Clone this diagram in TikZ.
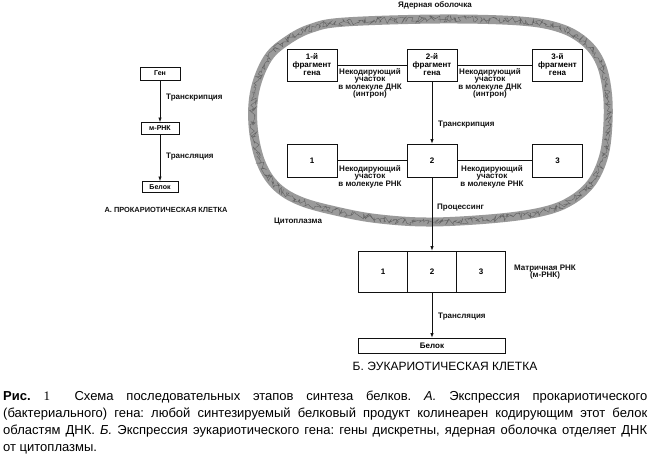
\documentclass[tikz,border=0pt]{standalone}
\usepackage{fontspec}
\setmainfont{Liberation Sans}
\newfontfamily\figserif{Liberation Serif}
\usepackage{xcolor}
\definecolor{cInk}{HTML}{111111}
\definecolor{cMembrane}{HTML}{9A9A9A}
\usepackage{tikz}
\usetikzlibrary{positioning,arrows.meta,decorations.pathmorphing}
\tikzset{
  node-box/.style={draw=cInk,line width=0.8pt,inner sep=0pt,outer sep=0pt,
    align=center,font=\fontsize{8}{8}\selectfont\bfseries},
  node-note/.style={inner sep=0pt,align=center,text=cInk,
    font=\fontsize{8}{7.6}\selectfont\bfseries},
  node-small/.style={font=\fontsize{7}{7}\selectfont\bfseries},
  arrow/.style={-{Latex[length=5pt,width=3.5pt]},line width=0.9pt,draw=cInk},
  link/.style={line width=0.8pt,draw=cInk},
  membrane/.style={line width=9pt,draw=cMembrane,line join=round},
  membrane-grain/.style={line width=0.4pt,draw=cInk!65,decorate,
    decoration={random steps,segment length=1.3pt,amplitude=3.4pt}},
}
\newcommand{\envpath}{plot[smooth cycle,tension=0.6] coordinates {
  (345,22) (440,19) (520,21) (560,28) (585,42) (600,62) (607,90) (608,122)
  (604,155) (592,182) (572,200) (545,211) (500,218) (432,222) (380,219)
  (340,212) (300,201) (275,185) (260,160) (253,125) (255,90) (268,58)
  (288,40) (312,28)}}

\begin{document}
\frenchspacing
\begin{tikzpicture}[x=1pt,y=-1pt]
  \useasboundingbox (0,0) rectangle (650,460);

  % A: prokaryotic cell
  \node[node-box,node-small,minimum width=40pt,minimum height=13pt] (gen) at (160,73.5) {Ген};
  \node[node-box,node-small,minimum width=38pt,minimum height=12pt] (mrna) at (160,128.5) {м-РНК};
  \node[node-box,node-small,minimum width=36pt,minimum height=11pt] (prot-a) at (160,187) {Белок};
  \draw[arrow] (gen) -- (mrna);
  \draw[arrow] (mrna) -- (prot-a);
  \node[node-note,anchor=west] (transc-a) at (166,98) {Транскрипция};
  \node[node-note,anchor=west] (transl-a) at (166,157) {Трансляция};
  \node[node-note,font=\fontsize{7.4}{7.4}\selectfont\bfseries] (cap-a) at (166,210) {А. ПРОКАРИОТИЧЕСКАЯ КЛЕТКА};

  % Б: nuclear envelope
  \draw[membrane] \envpath;
  \draw[membrane-grain] \envpath;
  \node[node-note] (env) at (435,5) {Ядерная оболочка};

  % gene fragments (DNA)
  \node[node-box,minimum width=50pt,minimum height=32pt] (frag1) at (312,65) {1-й\\фрагмент\\гена};
  \node[node-box,minimum width=50pt,minimum height=32pt] (frag2) at (432,65) {2-й\\фрагмент\\гена};
  \node[node-box,minimum width=50pt,minimum height=32pt] (frag3) at (557.5,65) {3-й\\фрагмент\\гена};
  \draw[link] (frag1) -- (frag2);
  \draw[link] (frag2) -- (frag3);
  \node[node-note,anchor=north] (intron1) at (370,68) {Некодирующий\\участок\\в молекуле ДНК\\(интрон)};
  \node[node-note,anchor=north] (intron2) at (490,68) {Некодирующий\\участок\\в молекуле ДНК\\(интрон)};

  % primary transcript (RNA)
  \node[node-box,minimum width=50pt,minimum height=33pt] (rna1) at (312,160.5) {1};
  \node[node-box,minimum width=50pt,minimum height=33pt] (rna2) at (432,160.5) {2};
  \node[node-box,minimum width=50pt,minimum height=33pt] (rna3) at (557.5,160.5) {3};
  \draw[link] (rna1) -- (rna2);
  \draw[link] (rna2) -- (rna3);
  \node[node-note,anchor=north] (nc1) at (370,165) {Некодирующий\\участок\\в молекуле РНК};
  \node[node-note,anchor=north] (nc2) at (492,165) {Некодирующий\\участок\\в молекуле РНК};
  \draw[arrow] (frag2) -- (rna2);
  \node[node-note,anchor=west] (transc-b) at (438,125) {Транскрипция};
  \node[node-note,anchor=west] (proc-b) at (437,208) {Процессинг};
  \node[node-note] (cyto) at (298,222) {Цитоплазма};

  % mature mRNA and protein
  \node[node-box,minimum width=49pt,minimum height=41pt] (mat2) at (432,271.5) {2};
  \node[node-box,minimum width=49pt,minimum height=41pt,left=0pt of mat2] (mat1) {1};
  \node[node-box,minimum width=49pt,minimum height=41pt,right=0pt of mat2] (mat3) {3};
  \draw[arrow] (rna2) -- (mat2);
  \node[node-note] (mat-label) at (545,272) {Матричная РНК\\(м-РНК)};
  \node[node-box,minimum width=147pt,minimum height=15pt] (prot-b) at (432,345.5) {Белок};
  \draw[arrow] (mat2) -- (prot-b);
  \node[node-note,anchor=west] (transl-b) at (438,317) {Трансляция};
  \node[inner sep=0pt,font=\fontsize{12}{12}\selectfont] (cap-b) at (445,366) {Б. ЭУКАРИОТИЧЕСКАЯ КЛЕТКА};

  % figure caption
  \node[anchor=north west,inner sep=0pt,text width=644pt,align=justify,
    font=\fontsize{13}{16.8}\selectfont] (caption) at (3,391)
    {\textbf{Рис.} {\figserif 1}\hspace{0.9em} Схема последовательных этапов синтеза белков. \textit{А.} Экспрессия прокариотического\linebreak
    (бактериального) гена: любой синтезируемый белковый продукт колинеарен кодирующим этот белок\linebreak
    областям ДНК. \textit{Б.} Экспрессия эукариотического гена: гены дискретны, ядерная оболочка отделяет ДНК\linebreak
    от цитоплазмы.};
\end{tikzpicture}
\end{document}
